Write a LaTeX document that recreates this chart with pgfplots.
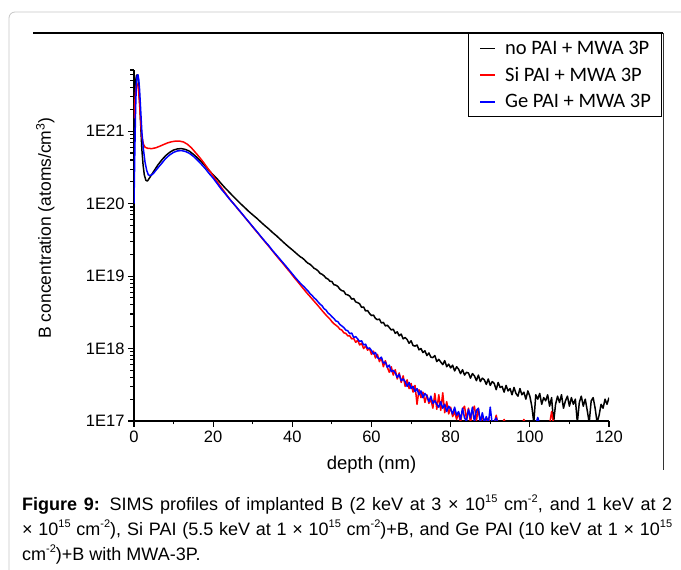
\documentclass[border=0pt]{standalone}
\usepackage{pgfplots}
\pgfplotsset{compat=1.18}
\usepackage{fontspec}
\setmainfont{Liberation Sans}
\newfontfamily\carlito{Carlito}
\newcommand\sps[1]{\raisebox{0.42em}{\fontsize{11}{11}\selectfont #1}}
\begin{document}
\begin{tikzpicture}[x=1pt,y=1pt]
\useasboundingbox (0,0) rectangle (681,570);
% screenshot frame
\draw[gray!45, line width=0.8pt, rounded corners=6pt] (9,-5) -- (9,558) -- (690,558);
\draw[black, line width=1.8pt] (33,537) -- (663,537);
\draw[black!80, line width=0.9pt] (663,537) -- (663,100);
\begin{axis}[
  at={(134pt,149pt)}, anchor=south west,
  scale only axis, width=475pt, height=351pt,
  xmin=0, xmax=120, ymin=1e17, ymax=7e21,
  ymode=log,
  axis x line*=bottom, axis y line*=left,
  axis line style={-, line width=1.2pt},
  tick align=outside,
  major tick length=6pt, minor tick length=3.5pt,
  every tick/.style={black, line width=1.1pt},
  xtick={0,20,40,60,80,100,120},
  xticklabels={0,20,40,60,80,100,120},
  minor x tick num=1,
  ytick={1e17,1e18,1e19,1e20,1e21},
  yticklabels={1E17,1E18,1E19,1E20,1E21},
  minor ytick={2e17,3e17,4e17,5e17,6e17,7e17,8e17,9e17,2e18,3e18,4e18,5e18,6e18,7e18,8e18,9e18,2e19,3e19,4e19,5e19,6e19,7e19,8e19,9e19,2e20,3e20,4e20,5e20,6e20,7e20,8e20,9e20,2e21,3e21,4e21,5e21,6e21,7e21},
  tick label style={font=\fontsize{16.5}{19}\selectfont},
  xlabel={depth (nm)},
  ylabel={B concentration (atoms/cm\textsuperscript{3})},
  label style={font=\fontsize{17.5}{20}\selectfont},
  xlabel style={font=\fontsize{18.5}{20}\selectfont, at={(axis description cs:0.5,-0.125)}, anchor=center},
  ylabel style={at={(axis description cs:-0.187,0.55)}, anchor=center},
  legend style={at={(axis description cs:0.7032,1.1054)}, anchor=north west,
    draw=black, line width=1.1pt, fill=white, inner xsep=11pt, inner ysep=4.5pt,
    font=\fontsize{20.5}{24}\carlito, row sep=5.5pt,
    nodes={inner xsep=0pt, inner ysep=3pt},
    /tikz/every odd column/.append style={column sep=9pt}},
  legend cell align=left,
  legend image code/.code={\draw[#1, line width=1.6pt] (0pt,0pt) -- (15pt,0pt);},
  clip=true,
]
\addplot[color=black, line width=1.5pt, line join=round] coordinates {
(0,1.5e21)(0.2,3.0e21)(0.4,4.8e21)(0.6,5.8e21)(0.8,6.0e21)(1.0,5.5e21)(1.2,4.2e21)(1.4,2.8e21)(1.6,1.6e21)(1.8,9.0e20)(2.0,5.5e20)(2.3,3.4e20)(2.6,2.5e20)(3.0,2.1e20)(3.4,2.05e20)(4,2.3e20)(5,2.8e20)(6,3.4e20)(7,4.0e20)(8,4.6e20)(9,5.1e20)(10,5.5e20)(11,5.7e20)(12,5.75e20)(13,5.6e20)(14,5.3e20)(15,4.8e20)(16,4.3e20)(17,3.8e20)(18,3.3e20)(19,2.85e20)(20,2.5e20)(21,2.2e20)(22,1.9e20)(23,1.65e20)(24,1.45e20)(25,1.27e20)(26,1.12e20)(27,9.9e19)(28,8.8e19)(29,7.8e19)(30,7.0e19)(31,6.3e19)(32,5.6e19)(33,5.0e19)(34,4.5e19)(35,4.0e19)(36,3.6e19)(37,3.2e19)(38,2.85e19)(39,2.55e19)(40,2.3e19)
(41,2.06e19)(41.5,1.95e19)(42,1.85e19)(42.5,1.78e19)(43,1.69e19)(43.5,1.58e19)(44,1.50e19)(44.5,1.45e19)(45,1.37e19)(45.5,1.28e19)(46,1.24e19)(46.5,1.18e19)(47,1.09e19)(47.5,1.06e19)(48,1.01e19)(48.5,9.4e18)(49,9.1e18)(49.5,8.5e18)(50,8.4e18)(50.5,7.6e18)(51,7.5e18)(51.5,7.2e18)(52,6.6e18)(52.5,6.3e18)(53,6.2e18)(53.5,5.6e18)(54,5.5e18)(54.5,5.3e18)(55,4.8e18)(55.5,4.9e18)(56,4.4e18)(56.5,4.3e18)(57,4.15e18)(57.5,3.7e18)(58,3.75e18)(58.5,3.3e18)(59,3.35e18)(59.5,3.05e18)(60,2.85e18)(60.5,2.9e18)(61,2.6e18)(61.5,2.5e18)(62,2.55e18)(62.5,2.25e18)(63,2.3e18)(63.5,2.05e18)(64,2.1e18)(64.5,1.95e18)(65,1.8e18)(65.5,1.85e18)(66,1.62e18)(66.5,1.7e18)(67,1.5e18)(67.5,1.58e18)(68,1.36e18)(68.5,1.42e18)(69,1.33e18)(69.5,1.18e18)(70,1.28e18)(70.5,1.1e18)(71,1.08e18)(71.5,1.12e18)(72,9.6e17)(72.5,1.0e18)(73,8.8e17)(73.5,9.3e17)(74,8.0e17)(74.5,8.7e17)(75,7.6e17)(75.5,7.5e17)(76,8.0e17)(76.5,6.6e17)(77,7.1e17)(77.5,6.5e17)(78,6.0e17)(78.5,6.8e17)(79,5.6e17)(79.5,6.1e17)(80,5.4e17)(80.5,5.9e17)(81,4.9e17)(81.5,5.6e17)(82,5.2e17)(82.5,4.5e17)(83,5.1e17)(83.5,4.3e17)(84,4.7e17)(84.5,4.6e17)(85,3.9e17)(85.5,4.5e17)(86,4.2e17)(86.5,3.6e17)(87,4.3e17)(87.5,3.5e17)(88,3.9e17)(88.5,3.7e17)(89,3.2e17)(89.5,3.8e17)(90,3.1e17)(90.5,3.5e17)(91,3.3e17)(91.5,2.7e17)(92,3.4e17)(92.5,2.9e17)(93,3.0e17)(93.5,2.5e17)(94,3.1e17)(94.5,2.6e17)(95,2.8e17)(95.5,2.3e17)(96,2.9e17)(96.5,2.4e17)(97,2.2e17)(97.5,2.8e17)(98,2.3e17)(98.5,2.5e17)(99,2.0e17)(99.5,2.6e17)(100,2.2e17)(100.5,1.6e17)(101,0.95e17)(101.5,2.3e17)(102,2.0e17)(102.5,2.4e17)(103,1.7e17)(103.5,2.1e17)(104,1.9e17)(104.5,2.3e17)(105,1.6e17)(105.5,2.1e17)(106,0.95e17)(106.5,1.7e17)(107,2.2e17)(107.5,1.8e17)(108,2.3e17)(108.5,1.5e17)(109,1.9e17)(109.5,2.2e17)(110,1.6e17)(110.5,2.1e17)(111,1.7e17)(111.5,2.0e17)(112,0.95e17)(112.5,1.8e17)(113,2.2e17)(113.5,1.6e17)(114,2.0e17)(114.5,1.4e17)(115,0.95e17)(115.5,1.9e17)(116,2.1e17)(116.5,1.5e17)(117,0.95e17)(117.5,1.2e17)(118,1.7e17)(118.5,1.5e17)(119,2.0e17)(119.5,1.7e17)(120,2.1e17)
};
\addlegendentry{no PAI + MWA 3P}
\addplot[color=red, line width=1.5pt, line join=round] coordinates {
(0,1.5e21)(0.2,2.5e21)(0.4,3.6e21)(0.6,4.3e21)(0.8,4.5e21)(1.0,4.2e21)(1.2,3.4e21)(1.4,2.4e21)(1.6,1.6e21)(1.8,1.1e21)(2.0,8.3e20)(2.4,6.6e20)(2.8,6.0e20)(3.5,5.8e20)(4.5,5.75e20)(5.5,5.9e20)(6.5,6.2e20)(7.5,6.55e20)(8.5,6.9e20)(9.5,7.15e20)(10.5,7.3e20)(11.5,7.3e20)(12.5,7.1e20)(13.5,6.6e20)(14.5,5.9e20)(15.5,5.1e20)(16.5,4.4e20)(17.5,3.75e20)(18.5,3.15e20)(19.5,2.65e20)(20.5,2.2e20)(21.5,1.85e20)(22.5,1.55e20)(23.5,1.3e20)(24.5,1.1e20)(25.5,9.5e19)(26.5,8.1e19)(27.5,7.0e19)(28.5,6.0e19)(29.5,5.15e19)(30.5,4.4e19)(31.5,3.8e19)(32.5,3.25e19)(33.5,2.8e19)(34.5,2.4e19)(35.5,2.05e19)(36.5,1.76e19)(37.5,1.52e19)(38.5,1.3e19)(39.5,1.12e19)(40.5,9.5e18)(41.5,8.2e18)(42.5,7.0e18)(43.5,6.0e18)(44.5,5.2e18)(45.5,4.5e18)(46.5,3.9e18)(47.5,3.35e18)(48.5,2.9e18)(49.5,2.55e18)
(50,2.35e18)(50.5,2.2e18)(51,2.1e18)(51.5,2.0e18)(52,1.85e18)(52.5,1.8e18)(53,1.65e18)(53.5,1.62e18)(54,1.5e18)(54.5,1.5e18)(55,1.36e18)(55.5,1.38e18)(56,1.22e18)(56.5,1.3e18)(57,1.12e18)(57.5,1.18e18)(58,1.0e18)(58.5,1.08e18)(59,9.5e17)(59.5,1.0e18)(60,8.3e17)(60.5,9.2e17)(61,7.4e17)(61.5,8.3e17)(62,6.6e17)(62.5,7.4e17)(63,5.6e17)(63.5,6.8e17)(64,5.5e17)(64.5,4.7e17)(65,5.6e17)(65.5,4.3e17)(66,5.1e17)(66.5,3.8e17)(67,4.6e17)(67.5,3.4e17)(68,4.2e17)(68.5,3.0e17)(69,3.7e17)(69.5,2.8e17)(70,3.3e17)(70.5,2.5e17)(71,3.1e17)(71.5,1.7e17)(72,2.7e17)(72.5,2.1e17)(73,2.5e17)(73.5,1.8e17)(74,2.3e17)(74.5,1.75e17)(75,2.0e17)(75.5,1.5e17)(76,2.4e17)(76.5,1.45e17)(77,2.3e17)(77.5,1.4e17)(78,2.45e17)(78.5,1.3e17)(79,1.85e17)(79.5,1.25e17)(80,1.55e17)(80.5,1.15e17)(81,1.35e17)(81.5,1.05e17)(82,1.3e17)(82.5,0.95e17)(83,1.45e17)(83.5,1.6e17)(84,1.05e17)(84.5,1.5e17)(85,0.95e17)(85.5,1.4e17)(86,1.6e17)(86.5,1.0e17)(87,1.5e17)(87.5,0.95e17)(88,1.2e17)(88.5,0.9e17)(89.5,1.1e17)(90,0.9e17)(91,0.9e17)(91.5,1.2e17)(92,0.9e17)(93,0.9e17)(93.5,1.05e17)(94,0.9e17)(98,0.9e17)(98.5,1.05e17)(99,0.9e17)(105,0.9e17)(105.5,1.35e17)(106,0.9e17)(107,0.9e17)
};
\addlegendentry{Si PAI + MWA 3P}
\addplot[color=blue, line width=1.5pt, line join=round] coordinates {
(0,1.0e20)(0.2,5.0e20)(0.4,2.0e21)(0.6,4.5e21)(0.8,5.8e21)(1.0,6.0e21)(1.2,5.2e21)(1.4,3.8e21)(1.6,2.4e21)(1.8,1.5e21)(2.0,9.5e20)(2.4,5.5e20)(2.8,3.7e20)(3.2,2.9e20)(3.6,2.5e20)(4.0,2.45e20)(4.5,2.5e20)(5,2.65e20)(6,3.1e20)(7,3.6e20)(8,4.2e20)(9,4.7e20)(10,5.1e20)(11,5.35e20)(12,5.4e20)(13,5.25e20)(14,4.95e20)(15,4.5e20)(16,4.0e20)(17,3.5e20)(18,3.05e20)(19,2.6e20)(20,2.25e20)(21,1.9e20)(22,1.6e20)(23,1.38e20)(24,1.18e20)(25,1.02e20)(26,8.8e19)(27,7.6e19)(28,6.5e19)(29,5.6e19)(30,4.8e19)(31,4.15e19)(32,3.55e19)(33,3.05e19)(34,2.65e19)(35,2.25e19)(36,1.95e19)(37,1.68e19)(38,1.45e19)(39,1.25e19)(40,1.07e19)(41,9.2e18)
(42,8.0e18)(42.5,7.5e18)(43,7.1e18)(43.5,6.6e18)(44,6.2e18)(44.5,5.7e18)(45,5.4e18)(45.5,5.0e18)(46,4.75e18)(46.5,4.4e18)(47,4.1e18)(47.5,3.9e18)(48,3.55e18)(48.5,3.4e18)(49,3.1e18)(49.5,2.95e18)(50,2.75e18)(50.5,2.6e18)(51,2.4e18)(51.5,2.35e18)(52,2.15e18)(52.5,2.05e18)(53,1.95e18)(53.5,1.8e18)(54,1.76e18)(54.5,1.6e18)(55,1.64e18)(55.5,1.42e18)(56,1.46e18)(56.5,1.36e18)(57,1.25e18)(57.5,1.28e18)(58,1.12e18)(58.5,1.15e18)(59,1.0e18)(59.5,1.02e18)(60,9.4e17)(60.5,8.4e17)(61,8.8e17)(61.5,7.5e17)(62,7.2e17)(62.5,7.6e17)(63,6.3e17)(63.5,6.5e17)(64,5.5e17)(64.5,5.9e17)(65,4.8e17)(65.5,5.0e17)(66,4.6e17)(66.5,4.0e17)(67,4.4e17)(67.5,3.6e17)(68,3.8e17)(68.5,3.5e17)(69,3.0e17)(69.5,3.4e17)(70,2.8e17)(70.5,3.0e17)(71,2.55e17)(71.5,2.8e17)(72,2.3e17)(72.5,2.6e17)(73,2.1e17)(73.5,2.4e17)(74,2.2e17)(74.5,1.85e17)(75,2.2e17)(75.5,1.75e17)(76,1.9e17)(76.5,1.7e17)(77,1.55e17)(77.5,1.85e17)(78,1.5e17)(78.5,1.7e17)(79,1.35e17)(79.5,1.6e17)(80,1.45e17)(80.5,1.25e17)(81,1.55e17)(81.5,1.2e17)(82,1.35e17)(82.5,1.05e17)(83,1.5e17)(83.5,1.1e17)(84,1.0e17)(84.5,1.45e17)(85,1.1e17)(85.5,1.55e17)(86,0.97e17)(86.5,1.4e17)(87,1.5e17)(87.5,0.95e17)(88,1.3e17)(88.5,0.95e17)(89,1.15e17)(89.5,0.9e17)(90,1.55e17)(90.5,0.9e17)(91.5,1.1e17)(92,0.9e17)(101.5,0.9e17)(102,1.12e17)(102.5,0.9e17)(106,0.9e17)
};
\addlegendentry{Ge PAI + MWA 3P}
\end{axis}
\node[anchor=north west, align=left, inner sep=0pt, font=\fontsize{18}{25}\selectfont] at (22,75)
{\makebox[650pt][s]{\textbf{Figure 9:} SIMS profiles of implanted B (2 keV at 3 × 10\sps{15} cm\sps{-2}, and 1 keV at 2}\\
\makebox[650pt][s]{× 10\sps{15} cm\sps{-2}), Si PAI (5.5 keV at 1 × 10\sps{15} cm\sps{-2})+B, and Ge PAI (10 keV at 1 × 10\sps{15}}\\
cm\sps{-2})+B with MWA-3P.};
\end{tikzpicture}
\end{document}
